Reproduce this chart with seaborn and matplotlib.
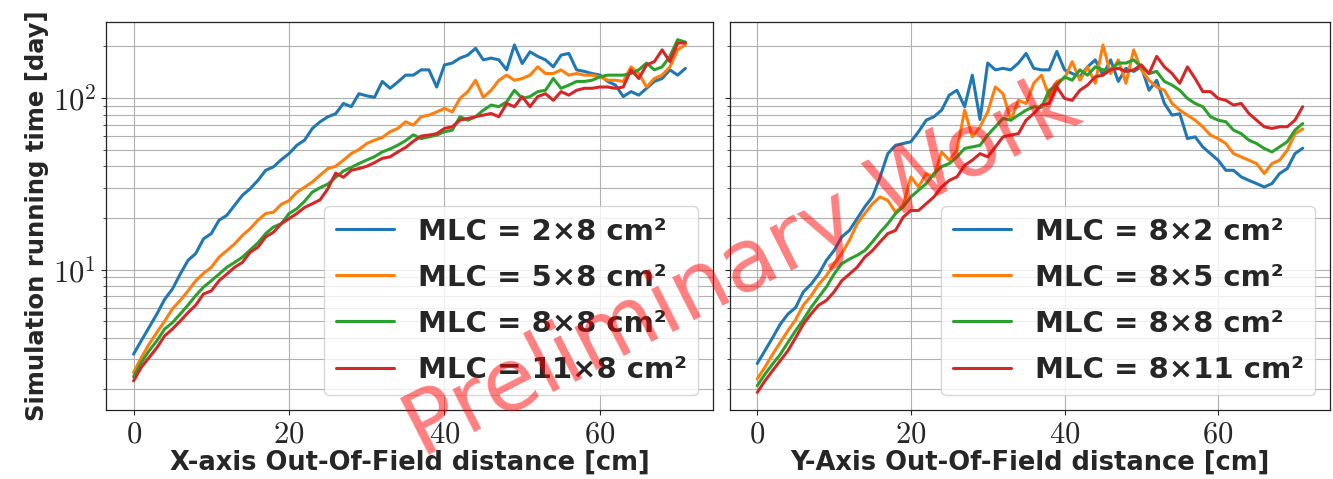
"""Simulation running time vs out-of-field distance, X and Y scans (log scale)."""

import matplotlib
matplotlib.use("Agg")
import matplotlib.pyplot as plt
from matplotlib.ticker import FuncFormatter, NullFormatter
import numpy as np
import pandas as pd
import seaborn as sns

# distance along the scan axis [cm]
DIST_CM = list(range(72))

X_LABELS = ["MLC = 2×8 cm²", "MLC = 5×8 cm²", "MLC = 8×8 cm²", "MLC = 11×8 cm²"]
Y_LABELS = ["MLC = 8×2 cm²", "MLC = 8×5 cm²", "MLC = 8×8 cm²", "MLC = 8×11 cm²"]

# running time [day], X-axis scans
X_2x8 = [3.21, 3.85, 4.6, 5.5, 6.7, 7.7, 9.4, 11.3, 12.4, 15.1,
         16.2, 19.4, 20.7, 23.7, 27.1, 29.6, 33.1, 37.9, 39.7, 43.7,
         47.4, 53.0, 56.8, 66.5, 72.7, 77.8, 81.0, 93.0, 89.0, 106,
         103, 101, 125, 114, 124, 136, 136, 146, 146, 116,
         156, 160, 171, 178, 195, 167, 171, 167, 146, 204,
         159, 186, 175, 167, 152, 178, 182, 146, 143, 139,
         136, 125, 119, 102, 109, 104, 114, 125, 130, 146,
         136, 149]
X_5x8 = [2.51, 3.07, 3.67, 4.3, 5.0, 5.9, 6.6, 7.5, 8.6, 9.5,
         10.3, 11.8, 12.9, 14.1, 15.8, 17.3, 19.4, 21.2, 21.6, 24.0,
         25.2, 28.2, 30.2, 32.4, 35.5, 38.8, 40.0, 43.4, 47.4, 50.1,
         54.3, 56.8, 58.9, 63.6, 66.5, 72.7, 69.5, 77.8, 79.5, 83.0,
         87.0, 83.0, 99.5, 109, 127, 101, 111, 127, 136, 127,
         130, 136, 152, 139, 139, 146, 136, 139, 136, 136,
         133, 127, 127, 125, 152, 139, 116, 130, 136, 152,
         191, 205]
X_8x8 = [2.37, 2.87, 3.36, 3.84, 4.5, 4.9, 5.5, 6.2, 7.05, 7.9,
         8.6, 9.4, 10.3, 11.0, 11.8, 13.0, 14.3, 16.2, 17.7, 18.5,
         21.2, 22.6, 25.0, 28.3, 30.0, 31.5, 34.5, 37.5, 39.4, 41.5,
         43.5, 45.5, 48.5, 50.5, 53.1, 56.5, 61.0, 58.0, 59.4, 60.8,
         63.6, 65.0, 77.8, 74.3, 77.8, 85.0, 91.0, 89.0, 95.0, 111,
         99.5, 102, 109, 111, 130, 114, 119, 125, 125, 127,
         133, 136, 136, 136, 139, 146, 160, 146, 152, 175,
         219, 212]
X_11x8 = [2.24, 2.69, 3.07, 3.5, 4.1, 4.5, 5.0, 5.6, 6.2, 7.2,
          7.5, 8.6, 9.4, 10.3, 11.0, 12.6, 13.5, 15.5, 16.5, 18.5,
          19.8, 21.2, 23.0, 24.2, 25.5, 29.6, 36.5, 34.5, 37.9, 38.8,
          40.0, 42.0, 44.5, 45.4, 48.5, 51.5, 56.0, 60.0, 60.8, 62.0,
          66.5, 68.0, 74.3, 76.0, 77.8, 79.5, 81.3, 77.8, 93.0, 89.0,
          102, 89.0, 102, 106, 97.0, 109, 104, 111, 114, 114,
          116, 116, 114, 116, 146, 130, 156, 163, 191, 163,
          209, 210]

# running time [day], Y-axis scans
Y_8x2 = [2.83, 3.36, 4.0, 4.8, 5.5, 6.0, 7.4, 8.2, 9.4, 11.3,
         12.9, 15.5, 16.9, 19.8, 23.2, 26.5, 34.7, 47.4, 53.0, 54.3,
         55.6, 63.6, 74.3, 77.8, 85.0, 104, 111, 89.0, 136, 75.0,
         160, 146, 149, 146, 160, 182, 149, 146, 146, 187,
         146, 139, 133, 152, 167, 136, 167, 125, 149, 143,
         152, 111, 127, 93.0, 79.5, 81.0, 58.0, 59.4, 51.9, 47.4,
         43.4, 37.9, 37.9, 34.7, 33.1, 31.7, 30.3, 31.7, 36.3, 38.8,
         47.4, 51.0]
Y_8x5 = [2.3, 2.69, 3.2, 3.76, 4.4, 5.1, 6.2, 7.0, 8.2, 9.2,
         10.8, 12.4, 14.8, 18.5, 21.2, 24.2, 26.5, 25.3, 21.6, 23.7,
         34.7, 30.3, 36.3, 34.7, 48.5, 43.4, 49.7, 85.0, 59.4, 68.0,
         83.0, 116, 106, 74.3, 97.0, 93.0, 122, 136, 102, 125,
         130, 163, 127, 152, 122, 204, 139, 167, 122, 191,
         146, 127, 116, 111, 93.0, 85.0, 79.5, 74.3, 68.0, 60.8,
         58.0, 54.3, 47.4, 45.4, 43.4, 41.5, 36.3, 41.5, 43.4, 49.7,
         62.0, 66.0]
Y_8x8 = [2.1, 2.45, 2.81, 3.2, 3.76, 4.4, 5.1, 6.0, 6.9, 7.9,
         9.4, 10.8, 11.5, 12.1, 12.9, 14.5, 16.5, 18.5, 21.2, 23.2,
         26.5, 29.0, 31.7, 36.3, 39.8, 41.5, 45.4, 50.8, 51.9, 53.0,
         60.8, 68.0, 76.0, 74.3, 79.5, 85.0, 89.0, 88.0, 111, 119,
         133, 127, 146, 136, 152, 146, 146, 160, 160, 167,
         152, 139, 143, 125, 119, 111, 99.5, 93.0, 89.0, 77.8,
         74.3, 72.7, 65.0, 62.0, 56.8, 54.3, 50.8, 48.5, 51.9, 55.6,
         65.0, 71.0]
Y_8x11 = [1.92, 2.24, 2.57, 2.94, 3.36, 4.0, 4.8, 5.5, 6.2, 6.6,
          7.4, 8.6, 9.4, 10.3, 11.8, 12.9, 14.5, 16.2, 16.9, 20.2,
          22.1, 22.1, 24.2, 26.5, 30.3, 33.1, 34.7, 40.5, 43.4, 47.4,
          45.4, 51.9, 59.4, 60.8, 62.0, 74.3, 81.3, 91.0, 93.0, 116,
          99.5, 97.0, 111, 119, 133, 136, 146, 149, 143, 146,
          156, 139, 175, 152, 139, 122, 152, 130, 109, 109,
          99.5, 97.0, 91.0, 93.0, 81.3, 74.3, 68.0, 66.5, 68.0, 68.0,
          74.3, 89.0]

XLABEL_FONT = {"family": "DejaVu Sans", "weight": "bold", "size": 18.5}
YLABEL_FONT = {"family": "DejaVu Sans", "weight": "bold", "size": 17.5}
LEGEND_FONT = {"family": "DejaVu Sans", "weight": "bold", "size": 21}


def to_long(series, labels):
    rows = []
    for lab, vals in zip(labels, series):
        for d, v in zip(DIST_CM, vals):
            rows.append({"dist": d, "time": v, "mlc": lab})
    return pd.DataFrame(rows)


def style_axis(ax):
    ax.set_yscale("log")
    ax.grid(True, which="major", axis="both", color="#b0b0b0", lw=0.8)
    ax.grid(True, which="minor", axis="y", color="#b0b0b0", lw=0.8)
    ax.set_xticks([0, 20, 40, 60])
    ax.xaxis.set_major_formatter(FuncFormatter(lambda v, _: rf"${v:g}$"))
    ax.yaxis.set_major_formatter(
        FuncFormatter(lambda v, _: rf"$10^{{{int(round(np.log10(v)))}}}$"))
    ax.yaxis.set_minor_formatter(NullFormatter())
    ax.tick_params(which="major", length=3.5, width=0.8, labelsize=22, direction="out")
    ax.tick_params(which="minor", length=2, width=0.6, direction="out")
    for sp in ax.spines.values():
        sp.set_color("#222222")
        sp.set_linewidth(0.9)


def main():
    sns.set_theme(style="ticks")
    plt.rcParams["mathtext.fontset"] = "cm"
    plt.rcParams["font.family"] = ["DejaVu Sans"]

    fig, axes = plt.subplots(1, 2, sharey=True, figsize=(13.33, 4.79), dpi=100)
    axes[0].set_position([0.0795, 0.144, 0.4554, 0.810])
    axes[1].set_position([0.5476, 0.144, 0.4501, 0.810])

    palette = sns.color_palette("tab10", 4)
    panels = [
        (axes[0], to_long([X_2x8, X_5x8, X_8x8, X_11x8], X_LABELS), X_LABELS,
         "X-axis Out-Of-Field distance [cm]"),
        (axes[1], to_long([Y_8x2, Y_8x5, Y_8x8, Y_8x11], Y_LABELS), Y_LABELS,
         "Y-Axis Out-Of-Field distance [cm]"),
    ]
    for ax, df, labels, xlabel in panels:
        sns.lineplot(data=df, x="dist", y="time", hue="mlc", hue_order=labels,
                     palette=palette, estimator=None, lw=2.2, ax=ax)
        style_axis(ax)
        ax.set_xlabel(xlabel, fontdict=XLABEL_FONT, labelpad=1)
        ax.legend(loc="lower right", prop=LEGEND_FONT, framealpha=0.8,
                  labelspacing=0.62, handlelength=2.0, borderaxespad=0.5)

    axes[0].set_ylabel("Simulation running time [day]", fontdict=YLABEL_FONT, labelpad=3)
    axes[1].set_ylabel("")

    fig.text(0.557, 0.44, "Preliminary Work", fontsize=63, color="red", alpha=0.5,
             rotation=27, ha="center", va="center", family="DejaVu Sans")

    fig.savefig("out.png", dpi=100)
    plt.close(fig)


if __name__ == "__main__":
    main()
